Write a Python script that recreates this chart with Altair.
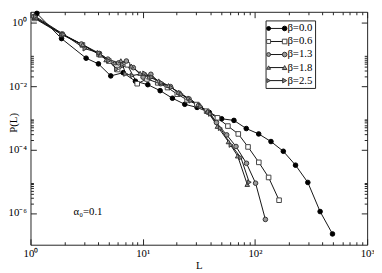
import math
import altair as alt
import pandas as pd

betas = ["β=0.0", "β=0.6", "β=1.3", "β=1.8", "β=2.5"]

L_b00 = [1.14, 1.89, 3.13, 4.03, 5.19, 6.69, 8.61, 11.1, 14.3, 18.4, 23.7, 30.5, 39.2,
         50.5, 65.0, 83.7, 108, 139, 179, 230, 296, 381, 491]
P_b00 = [1.96, 0.315, 0.076, 0.0503, 0.0210, 0.0265, 0.0143, 0.0111, 0.00719, 0.00415,
         0.00267, 0.00213, 0.00148, 0.000933, 0.000830, 0.000460, 0.000311, 0.000179,
         8.83e-5, 3.22e-5, 9.2e-6, 1.11e-6, 2.19e-7]

L_b06 = [1.09, 1.90, 2.90, 4.08, 4.99, 5.97, 7.30, 8.93, 10.91, 13.61, 16.63, 20.33,
         24.85, 30.38, 37.13, 46.33, 57.41, 71.04, 86.80, 108.3, 132.4, 164.1]
P_b06 = [1.36, 0.423, 0.199, 0.100, 0.0618, 0.0333, 0.0469, 0.0119, 0.0168, 0.0127,
         0.00902, 0.00557, 0.00369, 0.00262, 0.00162, 0.00100, 0.000550, 0.000311,
         0.000121, 3.95e-5, 1.32e-5, 2.53e-6]

L_b13 = [1.07, 1.92, 2.84, 4.12, 4.89, 6.10, 7.15, 8.24, 10.07, 11.82, 14.45, 17.66,
         21.17, 25.87, 31.62, 37.88, 45.39, 56.04, 67.82, 84.07, 101.3, 123.9]
P_b13 = [1.56, 0.438, 0.213, 0.107, 0.0709, 0.0539, 0.0618, 0.0382, 0.0192, 0.0236,
         0.0119, 0.00966, 0.00597, 0.00395, 0.00244, 0.00151, 0.000709, 0.000290,
         0.000125, 3.69e-5, 8.71e-6, 6.27e-7]

L_b18 = [1.08, 1.89, 2.92, 4.19, 4.72, 5.59, 6.38, 7.91, 9.48, 11.36, 13.88, 16.97,
         20.75, 25.36, 30.99, 37.88, 46.33, 58.10, 70.19, 85.42]
P_b18 = [1.46, 0.444, 0.203, 0.0953, 0.0676, 0.0539, 0.0631, 0.0429, 0.0253, 0.0192,
         0.0146, 0.0104, 0.00640, 0.00424, 0.00262, 0.00162, 0.000538, 0.000176,
         6.27e-5, 7.96e-6]

L_b25 = [1.11, 1.98, 3.06, 4.08, 4.99, 5.85, 6.60, 7.05, 8.07, 10.42, 12.06, 14.75,
         18.03, 22.03, 26.92, 32.92, 40.23, 49.19, 61.33, 74.99, 88.93]
P_b25 = [1.56, 0.423, 0.151, 0.112, 0.0631, 0.0340, 0.0479, 0.0241, 0.0216, 0.0253,
         0.0192, 0.0127, 0.00902, 0.00557, 0.00344, 0.00228, 0.00132, 0.000470,
         0.000139, 5.57e-5, 9.33e-6]

x_major = [1, 10, 100, 1000]
x_major_labels = ["10⁰", "10¹", "10²", "10³"]
x_minor = [2, 3, 4, 5, 6, 7, 8, 9, 20, 30, 40, 50, 60, 70, 80, 90,
           200, 300, 400, 500, 600, 700, 800, 900]
y_major = [1, 1e-2, 1e-4, 1e-6]
y_major_labels = ["10⁰", "10⁻²", "10⁻⁴", "10⁻⁶"]
y_minor = [2e-2, 3e-2, 4e-2, 5e-2, 6e-2, 7e-2, 8e-2, 9e-2,
           2e-4, 3e-4, 4e-4, 5e-4, 6e-4, 7e-4, 8e-4, 9e-4,
           2e-6, 3e-6, 4e-6, 5e-6, 6e-6, 7e-6, 8e-6, 9e-6]

annot_text = ["α₀=0.1"]
annot_L = [2.42]
annot_P = [1.1e-6]

series = [(betas[0], L_b00, P_b00), (betas[1], L_b06, P_b06), (betas[2], L_b13, P_b13),
          (betas[3], L_b18, P_b18), (betas[4], L_b25, P_b25)]
rows = []
for name, Ls, Ps in series:
    for i, (l, p) in enumerate(zip(Ls, Ps)):
        rows.append({"beta": name, "L": l, "P": p, "i": i})
df = pd.DataFrame(rows)
annot = pd.DataFrame({"text": annot_text, "L": annot_L, "P": annot_P})
leg = pd.DataFrame({"beta": betas})
box = pd.DataFrame({"k": [0]})

point_shapes = ["circle", "square", "circle", "triangle-up", "triangle-right"]
point_fills = ["black", "white", "#9a9a9a", "#9a9a9a", "#8a8a8a"]
point_strokes = ["black", "#444444", "#333333", "#333333", "#333333"]

FONT = "Liberation Serif"
xs = alt.Scale(type="log", domain=[1, 1000], nice=False)
ys = alt.Scale(type="log", domain=[1e-7, 2.2], nice=False)
shape_enc = alt.Shape("beta:N", scale=alt.Scale(domain=betas, range=point_shapes), legend=None)
fill_enc = alt.Fill("beta:N", scale=alt.Scale(domain=betas, range=point_fills), legend=None)
stroke_enc = alt.Stroke("beta:N", scale=alt.Scale(domain=betas, range=point_strokes), legend=None)


def label_expr(vals, labels):
    expr = "''"
    for v, lab in zip(reversed(vals), reversed(labels)):
        e = round(math.log10(v))
        expr = f"(round(log(datum.value)/LN10) == {e} ? '{lab}' : {expr})"
    return expr


lines = alt.Chart(df).mark_line(color="#111111", strokeWidth=1).encode(
    x=alt.X("L:Q", scale=xs, axis=alt.Axis(
        orient="bottom", values=x_major, labelExpr=label_expr(x_major, x_major_labels),
        ticks=False, domain=False, grid=False, labelPadding=3, labelFlush=False,
        labelOverlap=False, title="L", titleX=172, titleY=21, titleBaseline="middle",
        titleAlign="center")),
    y=alt.Y("P:Q", scale=ys, axis=alt.Axis(
        orient="left", values=y_major, labelExpr=label_expr(y_major, y_major_labels),
        ticks=False, domain=False, grid=False, labelPadding=4, labelFlush=False,
        labelOverlap=False, labelBaseline="middle", title="P(L)", titleX=-17, titleY=113,
        titleAngle=-90, titleBaseline="middle", titleAlign="center")),
    detail="beta:N",
    order="i:Q",
)

points = alt.Chart(df).mark_point(filled=False, opacity=1, size=22, strokeWidth=1).encode(
    x=alt.X("L:Q", scale=xs, axis=None),
    y=alt.Y("P:Q", scale=ys, axis=None),
    shape=shape_enc, fill=fill_enc, stroke=stroke_enc,
)

annot_layer = alt.Chart(annot).mark_text(
    align="left", baseline="middle", font=FONT, fontSize=11, color="black").encode(
    x=alt.X("L:Q", scale=xs, axis=None),
    y=alt.Y("P:Q", scale=ys, axis=None),
    text="text:N",
)

# legend, drawn from the series names through a point scale
ly = alt.Y("beta:N", scale=alt.Scale(type="point", domain=betas, range=[17, 70.3], padding=0),
           axis=None)
leg_box = alt.Chart(box).mark_rect(fill="white", stroke="#222222", strokeWidth=1).encode(
    x=alt.value(240.7), x2=alt.value(291.3), y=alt.value(9.3), y2=alt.value(78.3))
leg_line = alt.Chart(leg).mark_rule(color="#111111", strokeWidth=1).encode(
    x=alt.value(243.3), x2=alt.value(259.7), y=ly)
leg_pt_l = alt.Chart(leg).mark_point(filled=False, opacity=1, size=16, strokeWidth=1).encode(
    x=alt.value(243.3), y=ly, shape=shape_enc, fill=fill_enc, stroke=stroke_enc)
leg_pt_r = alt.Chart(leg).mark_point(filled=False, opacity=1, size=22, strokeWidth=1).encode(
    x=alt.value(259.7), y=ly, shape=shape_enc, fill=fill_enc, stroke=stroke_enc)
leg_text = alt.Chart(leg).mark_text(
    align="left", baseline="middle", font=FONT, fontSize=11, color="black").encode(
    x=alt.value(262.5), y=ly, text="beta:N")


def tick_layer(xo, yo, xv, yv, size):
    return alt.Chart(df).transform_filter("false").mark_point(opacity=0).encode(
        x=alt.X("L:Q", scale=xs, axis=alt.Axis(
            orient=xo, values=xv, tickSize=size, offset=-size, labels=False, domain=False,
            grid=False, title=None, ticks=True, tickColor="#222222", tickWidth=1)),
        y=alt.Y("P:Q", scale=ys, axis=alt.Axis(
            orient=yo, values=yv, tickSize=size, offset=-size, labels=False, domain=False,
            grid=False, title=None, ticks=True, tickColor="#222222", tickWidth=1)),
    )


chart = alt.layer(
    lines, points, annot_layer,
    tick_layer("bottom", "left", x_major, y_major, 6),
    tick_layer("bottom", "left", x_minor, y_minor, 3),
    tick_layer("top", "right", x_major, y_major, 6),
    tick_layer("top", "right", x_minor, y_minor, 3),
    leg_box, leg_line, leg_pt_l, leg_pt_r, leg_text,
).resolve_scale(
    y="independent"
).resolve_axis(
    x="independent", y="independent"
).properties(
    width=344, height=238,
    padding={"left": 23, "top": 1, "right": 7, "bottom": 26},
    autosize=alt.AutoSizeParams(type="none"),
).configure_view(
    stroke="#222222", strokeWidth=1
).configure_axis(
    labelFont=FONT, titleFont=FONT, labelFontSize=11, titleFontSize=11,
    titleFontWeight="normal", labelColor="black", titleColor="black"
)

chart.save("out.html", embed_options={"renderer": "svg", "actions": False})
